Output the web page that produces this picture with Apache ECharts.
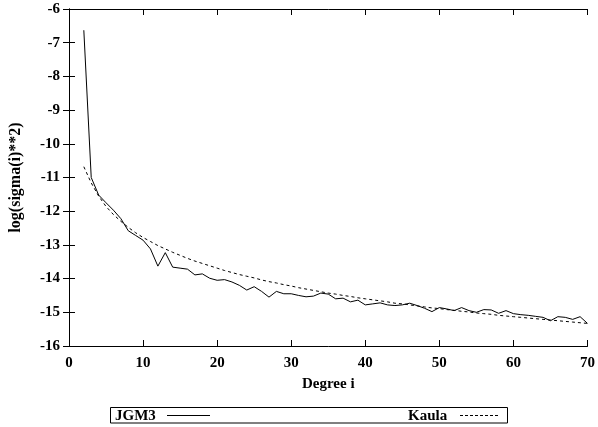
<!DOCTYPE html>
<html>
<head>
<meta charset="utf-8">
<script src="https://cdn.jsdelivr.net/npm/echarts@6/dist/echarts.min.js"></script>
<style>
html,body{margin:0;padding:0;background:#fff;}
#c{width:598px;height:427px;}
</style>
</head>
<body>
<div id="c"></div>
<script>
var degrees = [];
for (var d = 2; d <= 70; d++) degrees.push(d);

var jgm3 = [-6.63,-11.00,-11.52,-11.75,-11.97,-12.22,-12.58,-12.72,-12.86,-13.12,
  -13.63,-13.23,-13.66,-13.69,-13.72,-13.89,-13.86,-13.99,-14.05,-14.03,
  -14.10,-14.20,-14.34,-14.24,-14.38,-14.55,-14.38,-14.45,-14.45,-14.50,
  -14.54,-14.52,-14.43,-14.46,-14.60,-14.58,-14.69,-14.64,-14.78,-14.75,
  -14.72,-14.78,-14.80,-14.78,-14.73,-14.80,-14.88,-14.98,-14.86,-14.90,
  -14.95,-14.86,-14.95,-15.00,-14.92,-14.93,-15.03,-14.95,-15.04,-15.07,
  -15.09,-15.12,-15.15,-15.25,-15.13,-15.15,-15.21,-15.13,-15.33];

var kaula = [-10.68,-11.16,-11.55,-11.86,-12.10,-12.30,-12.48,-12.64,-12.78,-12.90,
  -13.02,-13.12,-13.22,-13.31,-13.40,-13.48,-13.55,-13.62,-13.69,-13.76,
  -13.82,-13.88,-13.93,-13.98,-14.04,-14.09,-14.13,-14.18,-14.22,-14.27,
  -14.31,-14.35,-14.39,-14.43,-14.46,-14.50,-14.53,-14.57,-14.60,-14.63,
  -14.66,-14.69,-14.73,-14.75,-14.78,-14.81,-14.84,-14.87,-14.89,-14.92,
  -14.94,-14.97,-14.99,-15.02,-15.04,-15.06,-15.09,-15.11,-15.13,-15.15,
  -15.17,-15.19,-15.21,-15.23,-15.25,-15.27,-15.29,-15.31,-15.33];

var seriesNames = ['JGM3', 'Kaula'];
var xTitle = 'Degree i';
var yTitle = 'log(sigma(i)**2)';

function pairs(vals){ return degrees.map(function(d,i){ return [d, vals[i]]; }); }

var FONT = '"Liberation Serif", "Times New Roman", serif';
var txt = {color:'#000', fontFamily:FONT, fontWeight:'bold', fontSize:15};

var chart = echarts.init(document.getElementById('c'), null, {renderer:'canvas'});
var axLine = {show:true, lineStyle:{color:'#000', width:1}};
var tick = {show:true, inside:true, length:6, lineStyle:{color:'#000', width:1}};
chart.setOption({
  animation:false,
  backgroundColor:'#fff',
  grid:{left:67, right:7, top:9, bottom:81, containLabel:false},
  xAxis:[{
    type:'value', min:0, max:70, interval:10, position:'bottom',
    name:xTitle, nameLocation:'middle', nameGap:31, nameTextStyle:txt,
    axisLine:axLine, axisTick:tick, splitLine:{show:false},
    axisLabel:Object.assign({margin:10}, txt)
  },{
    type:'value', min:0, max:70, interval:10, position:'top',
    axisLine:axLine, axisTick:tick, splitLine:{show:false}, axisLabel:{show:false}
  }],
  yAxis:[{
    type:'value', min:-16, max:-6, interval:1, position:'left',
    name:yTitle, nameLocation:'middle', nameGap:45, nameRotate:90,
    nameTextStyle:Object.assign({}, txt, {fontSize:16}),
    axisLine:axLine, axisTick:tick, splitLine:{show:false},
    axisLabel:Object.assign({margin:9}, txt)
  },{
    type:'value', min:-16, max:-6, interval:1, position:'right',
    axisLine:axLine, axisTick:tick, splitLine:{show:false}, axisLabel:{show:false}
  }],
  series:[{
    name:seriesNames[0], type:'line', data:pairs(jgm3), symbol:'none',
    lineStyle:{color:'#000', width:1}, xAxisIndex:0, yAxisIndex:0
  },{
    name:seriesNames[1], type:'line', data:pairs(kaula), symbol:'none',
    lineStyle:{color:'#000', width:1, type:[3,3]}, xAxisIndex:0, yAxisIndex:0
  }],
  graphic:[
    {type:'rect', shape:{x:110.5, y:407.5, width:397, height:15.5}, style:{fill:'#fff', stroke:'#000', lineWidth:1}},
    {type:'text', x:115, y:416, style:{text:seriesNames[0], fill:'#000', font:'bold 15px ' + FONT, textVerticalAlign:'middle', verticalAlign:'middle'}},
    {type:'line', shape:{x1:167, y1:415.5, x2:210, y2:415.5}, style:{stroke:'#000', lineWidth:1}},
    {type:'text', x:408, y:416, style:{text:seriesNames[1], fill:'#000', font:'bold 15px ' + FONT, textVerticalAlign:'middle', verticalAlign:'middle'}},
    {type:'line', shape:{x1:460, y1:415.5, x2:499, y2:415.5}, style:{stroke:'#000', lineWidth:1, lineDash:[3,2]}}
  ]
});
</script>
</body>
</html>
